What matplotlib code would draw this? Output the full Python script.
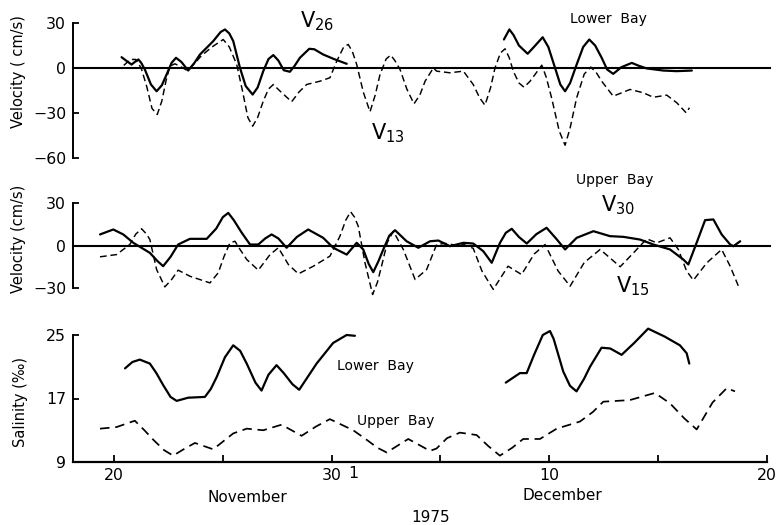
import matplotlib
matplotlib.use("Agg")
import matplotlib.pyplot as plt
import matplotlib.transforms as mtransforms

# ---- time axis: day counted from 1 November 1975 (Dec 1 = 31) ----
x_ticks = [20, 25, 30, 35, 40, 45, 50]
x_tick_labels = ["20", "", "30", "", "10", "", "20"]

# ---- Lower Bay velocity (cm/s) ----
v26_a_day = [20.35, 20.6, 20.81, 21.0, 21.12, 21.25, 21.42, 21.7, 21.96, 22.2, 22.42, 22.65,
             22.85, 23.1, 23.41, 23.7, 23.95, 24.56, 24.9, 25.10, 25.3, 25.48, 25.79, 26.05,
             26.37, 26.6, 26.86, 27.1, 27.32, 27.55, 27.8, 28.08, 28.3, 28.54, 28.97, 29.2,
             29.61, 30.1, 30.69]
v26_a_vel = [7.2, 4.5, 2.3, 4.5, 5.7, 3.5, -1.0, -11, -15.5, -11.5, -4.3, 3.5,
             6.8, 4, -1.7, 3.5, 9.0, 17.9, 24, 25.7, 23, 17.9, 0.0, -12,
             -17.7, -13, -2.0, 6, 8.6, 5, -1.5, -2.5, 1.5, 6.8, 12.8, 12.5,
             9.0, 6, 2.8]
v26_b_day = [37.91, 38.16, 38.35, 38.6, 39.0, 39.35, 39.69, 39.95, 40.26, 40.5, 40.72, 40.95,
             41.25, 41.55, 41.83, 42.1, 42.4, 42.65, 42.93, 43.3, 43.78, 44.1, 44.47, 45.23,
             45.85, 46.54]
v26_b_vel = [19, 25.7, 22, 15, 9.5, 15, 20.5, 14, 0, -11, -15.5, -10,
             2.3, 14, 19, 15, 6.8, -1, -3.9, 0.5, 3.4, 1.5, -0.3, -1.7,
             -2.1, -1.7]
v13_day = [20.45, 20.75, 21.0, 21.25, 21.5, 21.75, 21.99, 22.2, 22.4, 22.57, 22.8, 23.05,
           23.37, 23.7, 24.0, 24.5, 25.02, 25.3, 25.64, 25.9, 26.15, 26.37, 26.6, 26.86,
           27.1, 27.32, 27.6, 28.16, 28.5, 28.85, 29.46, 29.92, 30.23, 30.55, 30.76, 30.95,
           31.15, 31.45, 31.76, 32.0, 32.22, 32.5, 32.71, 32.9, 33.14, 33.45, 33.78, 34.05,
           34.29, 34.67, 34.82, 35.43, 36.05, 36.5, 36.8, 37.04, 37.3, 37.5, 37.75, 37.96,
           38.15, 38.34, 38.6, 38.83, 39.1, 39.34, 39.65, 39.85, 40.1, 40.45, 40.72, 40.95,
           41.25, 41.6, 41.9, 42.15, 42.4, 42.93, 43.7, 44.31, 44.77, 45.39, 45.85, 46.28,
           46.43]
v13_vel = [1.7, 5.7, 5.7, 0, -12, -27, -31, -22, -8, 1.2, 2.8, 1,
           -1.7, 3, 7.9, 14, 19, 14, 2.3, -15, -33, -38.8, -33, -22,
           -14, -11, -15, -22.5, -16, -11, -8.8, -6.5, 4.5, 14, 15.7, 11,
           2.3, -16, -29.2, -18, -4.3, 6, 8.6, 5, -1, -14, -23.9, -18,
           -8.8, 0, -2.1, -3.2, -2.1, -11, -20, -24.8, -13, 0, 10, 12.8,
           7, -2.1, -10, -12.8, -9, -4.3, 1.9, -6, -19.9, -42, -51.5, -40,
           -19.9, -4, 0.6, -3, -8.8, -18.8, -14.3, -16.5, -19.5, -18.1, -23.2, -29.9,
           -26.5]

# ---- Upper Bay velocity (cm/s) ----
v30_day = [19.36, 19.97, 20.43, 20.89, 21.65, 22.0, 22.26, 22.6, 22.95, 23.49, 24.26, 24.7,
           25.0, 25.25, 25.5, 25.87, 26.25, 26.63, 26.95, 27.24, 27.55, 27.93, 28.4, 28.92,
           29.61, 30.07, 30.69, 31.15, 31.45, 31.7, 31.91, 32.15, 32.37, 32.65, 32.91, 33.44,
           33.98, 34.52, 34.9, 35.43, 36.05, 36.5, 36.96, 37.35, 37.73, 38.0, 38.27, 38.6,
           38.96, 39.4, 39.87, 40.3, 40.72, 41.25, 42.02, 42.78, 43.4, 44.16, 44.77, 45.54,
           46.15, 46.38, 46.76, 47.15, 47.53, 47.91, 48.3, 48.45, 48.76]
v30_vel = [7.8, 11.3, 7.8, 1.9, -5.2, -11, -14.6, -8, 0.7, 4.7, 4.7, 12,
           20, 23, 18, 9, 0.7, 0.7, 5, 7.8, 5, -1.6, 6, 11.3,
           5.4, -1.6, -6.4, 1.9, -2.8, -13, -18.8, -11, -2.8, 7, 10.8, 3,
           -1.6, 3, 3.5, -0.5, 1.9, 1.4, -4, -12.2, 1.9, 9, 11.8, 6,
           1.4, 8, 12.5, 5, -2.8, 5.4, 10.1, 6.6, 6.1, 4.2, 0.7, -2.8,
           -9.9, -13.4, 1.9, 17.9, 18.4, 7.8, 0.7, -0.5, 3]
v15_day = [19.36, 20.12, 20.73, 21.0, 21.27, 21.5, 21.65, 21.96, 22.34, 22.65, 22.95, 23.49,
           24.41, 24.79, 25.05, 25.33, 25.56, 25.8, 26.1, 26.63, 27.17, 27.55, 28.01, 28.47,
           29.16, 29.92, 30.38, 30.65, 30.87, 31.05, 31.22, 31.53, 31.88, 32.1, 32.29, 32.55,
           32.83, 33.29, 33.83, 34.36, 34.82, 35.2, 35.6, 36.1, 36.5, 36.9, 37.42, 38.1,
           38.72, 39.3, 39.8, 40.4, 40.95, 41.6, 42.33, 43.25, 43.86, 44.47, 44.93, 45.54,
           45.92, 46.3, 46.61, 47.23, 47.91, 48.3, 48.68]
v15_vel = [-8, -6.4, 0.7, 8, 11.8, 8, 4.2, -17, -29.2, -24, -17.4, -21.7,
           -26.4, -19.3, -8, 1.9, 3, -3, -9.9, -17.4, -6.4, -1.6, -13.4, -20,
           -14.6, -7.5, 6.6, 18, 23.8, 20, 13.6, -12.2, -34.6, -26, -14.6, 2,
           10.1, -2.8, -24, -17, 0.7, 1.5, 0.5, 0.5, -2, -18, -31, -14.6,
           -20.5, -6, 0.7, -18, -28.7, -12, -2.8, -15, -5.2, 4.7, 1.9, 5.4,
           -2.8, -18, -24.5, -12.2, -2.8, -14.6, -28.7]

# ---- salinity (per mil) ----
sal_lower_a_day = [20.51, 20.85, 21.19, 21.65, 21.95, 22.26, 22.6, 22.88, 23.41, 24.18, 24.45,
                   24.72, 25.1, 25.48, 25.8, 26.1, 26.5, 26.78, 27.1, 27.47, 27.8, 28.2, 28.51,
                   29.31, 30.07, 30.69, 31.07]
sal_lower_a = [20.8, 21.6, 21.9, 21.4, 20.2, 18.7, 17.2, 16.7, 17.1, 17.2, 18.2,
               19.7, 22.2, 23.7, 23.0, 21.4, 19, 18, 20, 21.2, 20.2, 18.8, 18.1,
               21.4, 24, 25, 24.9]
sal_lower_b_day = [38.0, 38.65, 38.96, 39.3, 39.7, 40.03, 40.2, 40.64, 40.95, 41.25, 41.6,
                   41.87, 42.4, 42.8, 43.32, 43.9, 44.54, 45.3, 46.0, 46.31, 46.43]
sal_lower_b = [19, 20.2, 20.2, 22.5, 25, 25.5, 24.5, 20.4, 18.6, 17.9, 19.5,
               21, 23.4, 23.3, 22.5, 24, 25.8, 24.8, 23.7, 22.7, 21.4]
sal_upper_day = [19.36, 20.12, 20.96, 21.4, 21.81, 22.3, 22.72, 23.2, 23.72, 24.56, 25.48,
                 26.1, 26.86, 27.7, 28.62, 29.3, 29.92, 30.99, 31.61, 32.1, 32.53, 33.52,
                 34.52, 34.82, 35.3, 35.89, 36.66, 37.2, 37.73, 38.3, 38.8, 39.57, 40.34,
                 41.41, 42.0, 42.48, 43.7, 44.85, 45.54, 46.2, 46.77, 47.5, 48.15, 48.53]
sal_upper = [13.2, 13.4, 14.2, 13, 11.8, 10.5, 9.8, 10.6, 11.4, 10.6, 12.6,
             13.2, 13, 13.7, 12.3, 13.5, 14.4, 13, 11.8, 10.8, 10.2, 11.9,
             10.4, 10.7, 12, 12.7, 12.4, 11, 9.8, 10.8, 11.9, 11.9, 13.2,
             14.1, 15.3, 16.6, 16.8, 17.7, 16.4, 14.5, 13.1, 16.5, 18.3, 17.9]

W, H = 778, 525
fig = plt.figure(figsize=(W / 100, H / 100), dpi=100)
plt.rcParams["font.family"] = "DejaVu Sans"


def px_axes(top, bottom, left=73, right=770):
    return fig.add_axes([left / W, 1 - bottom / H, (right - left) / W, (bottom - top) / H])


XLIM = (18.12, 50.13)
SOLID = dict(color="black", lw=1.6, solid_capstyle="round", clip_on=False)
DASH = dict(color="black", lw=1.05, dashes=(4.6, 2.6), clip_on=False)
TICKFS = 11.3


def style(ax, yticks, ylabels, bottom=False):
    ax.set_xlim(*XLIM)
    for s in ("top", "right"):
        ax.spines[s].set_visible(False)
    ax.spines["left"].set_linewidth(1.4)
    if bottom:
        ax.spines["bottom"].set_linewidth(1.6)
    else:
        ax.spines["bottom"].set_visible(False)
        ax.set_xticks([])
    ax.set_yticks(yticks)
    ax.set_yticklabels(ylabels, fontsize=TICKFS)
    ax.tick_params(axis="y", direction="in", length=4, width=1.3, pad=5)
    ax.patch.set_alpha(0)


# Panel 1: Lower Bay velocities
ax1 = px_axes(23, 158)
ax1.set_ylim(-60, 30)
style(ax1, [30, 0, -30, -60], ["30", "0", "\u221230", "\u221260"])
ax1.axhline(0, color="black", lw=1.5, clip_on=False)
ax1.plot(v26_a_day, v26_a_vel, **SOLID)
ax1.plot(v26_b_day, v26_b_vel, **SOLID)
ax1.plot(v13_day, v13_vel, **DASH)
ax1.text(29.32, 31, r"$\mathsf{V}_{\mathsf{26}}$", fontsize=15, ha="center", va="center")
ax1.text(32.59, -43.5, r"$\mathsf{V}_{\mathsf{13}}$", fontsize=15, ha="center", va="center")
ax1.text(42.69, 33, "Lower  Bay", fontsize=10, ha="center", va="center")

# Panel 2: Upper Bay velocities
ax2 = px_axes(203, 288)
ax2.set_ylim(-30, 30)
style(ax2, [30, 0, -30], ["30", "0", "\u221230"])
ax2.axhline(0, color="black", lw=1.5, clip_on=False)
ax2.plot(v30_day, v30_vel, **SOLID)
ax2.plot(v15_day, v15_vel, **DASH)
ax2.text(43.01, 46, "Upper  Bay", fontsize=10, ha="center", va="center")
ax2.text(43.15, 28.5, r"$\mathsf{V}_{\mathsf{30}}$", fontsize=15, ha="center", va="center")
ax2.text(43.84, -28.5, r"$\mathsf{V}_{\mathsf{15}}$", fontsize=15, ha="center", va="center")

# Panel 3: salinity
ax3 = px_axes(335, 462, right=767)
ax3.set_ylim(9, 25)
style(ax3, [25, 17, 9], ["25", "17", "9"], bottom=True)
ax3.set_xlim(XLIM[0], 50.0)
ax3.set_xticks(x_ticks)
ax3.set_xticklabels(x_tick_labels, fontsize=TICKFS)
ax3.tick_params(axis="x", direction="in", length=5, width=1.3, pad=4)
ax3.plot(sal_lower_a_day, sal_lower_a, **SOLID)
ax3.plot(sal_lower_b_day, sal_lower_b, **SOLID)
ax3.plot(sal_upper_day, sal_upper, color="black", lw=1.25, dashes=(5.5, 3.3), clip_on=False)
ax3.text(32.03, 21.1, "Lower  Bay", fontsize=10, ha="center", va="center")
ax3.text(32.95, 14.2, "Upper  Bay", fontsize=10, ha="center", va="center")
# "1" marks the first of December next to the 30 November label
lab = mtransforms.blended_transform_factory(ax3.transData, ax3.transAxes)
ax3.text(31, -0.035, "1", fontsize=TICKFS, ha="center", va="top", transform=lab)

# axis titles
fig.text(19 / W, 1 - 72 / H, "Velocity ( cm/s)", rotation=90, fontsize=10.5,
         ha="center", va="center")
fig.text(19 / W, 1 - 239 / H, "Velocity (cm/s)", rotation=90, fontsize=10.5,
         ha="center", va="center")
fig.text(21 / W, 1 - 402 / H, "Salinity (\u2030)", rotation=90, fontsize=10.5,
         ha="center", va="center")
fig.text(247 / W, 1 - 497 / H, "November", fontsize=11, ha="center", va="center")
fig.text(562 / W, 1 - 495 / H, "December", fontsize=11, ha="center", va="center")
fig.text(431 / W, 1 - 518 / H, "1975", fontsize=11, ha="center", va="center")

fig.savefig("out.png", dpi=100, facecolor="white")
